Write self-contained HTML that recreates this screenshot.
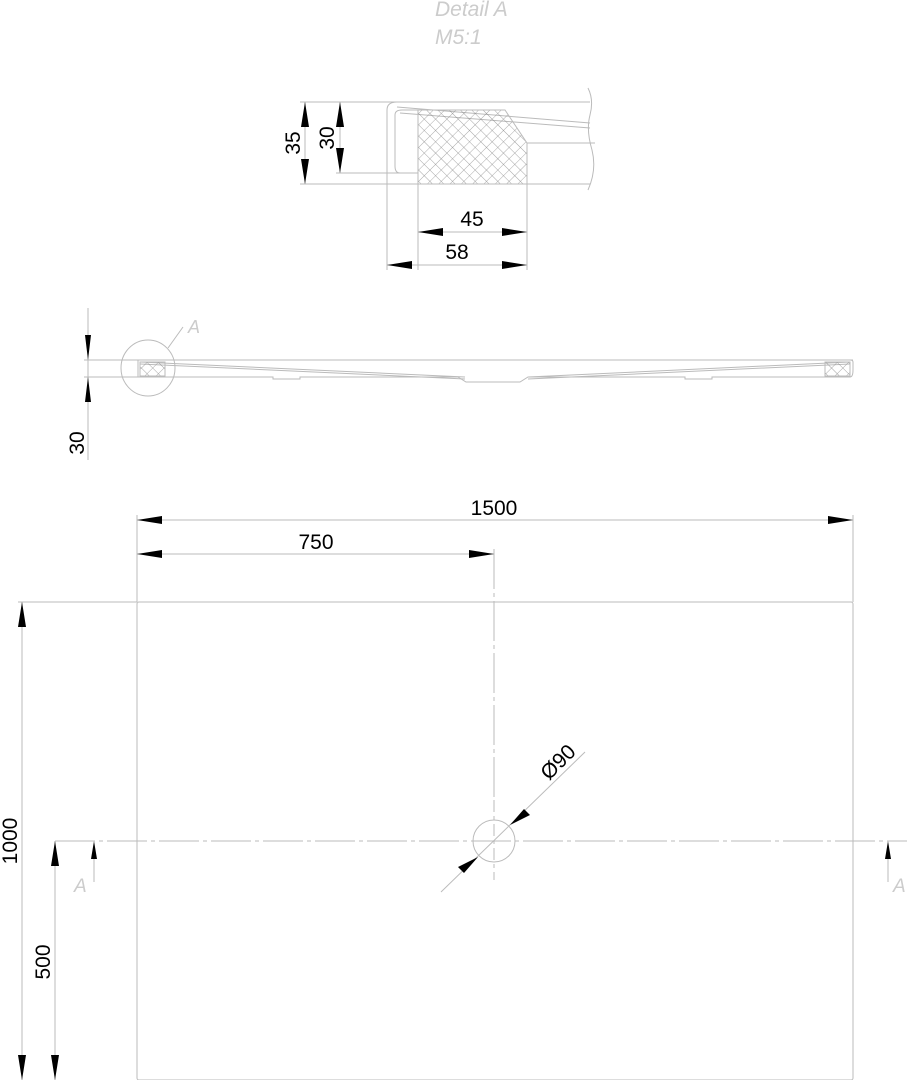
<!DOCTYPE html>
<html><head><meta charset="utf-8"><style>
html,body{margin:0;padding:0;background:#fff;}
svg{display:block;}
text{font-family:"Liberation Sans",sans-serif;}
</style></head><body>
<svg width="907" height="1080" viewBox="0 0 907 1080" xmlns="http://www.w3.org/2000/svg">
<defs>
<pattern id="h" width="8" height="8" patternUnits="userSpaceOnUse" patternTransform="rotate(45)">
<path d="M0 0H8M0 0V8" stroke="#888" stroke-width="0.7" fill="none"/>
</pattern>
</defs>
<g fill="#ccc" font-style="italic" font-size="21">
<text x="435" y="16">Detail  A</text>
<text x="435" y="44">M5:1</text>
</g>
<!-- Detail A -->
<g stroke="#bbb" stroke-width="1" fill="none">
<line x1="300" y1="102" x2="590" y2="102"/>
<line x1="300" y1="184" x2="590" y2="184"/>
<line x1="336" y1="173" x2="418" y2="173"/>
<path d="M387 184 V110 Q387 102 397 102"/>
<path d="M397 107 L590 123"/>
<path d="M400 113 L590 128"/>
<path d="M418 173 H400 Q395 173 395 166 V115 Q395 110 402 110 H418"/>
<line x1="527" y1="143" x2="595" y2="143"/>
<path d="M588 88 Q594 100 590 115 Q586 130 592 150 Q597 170 588 190"/>
<line x1="387" y1="184" x2="387" y2="270"/>
<line x1="418" y1="184" x2="418" y2="270"/>
<line x1="527" y1="184" x2="527" y2="270"/>
<line x1="418" y1="232" x2="527" y2="232"/>
<line x1="387" y1="265" x2="527" y2="265"/>
<line x1="305" y1="102" x2="305" y2="184"/>
<line x1="340" y1="102" x2="340" y2="173"/>
</g>
<path d="M418 110 H505 L527 143 V184 H418 Z" fill="url(#h)" stroke="#bbb"/>
<g fill="#000">
<path d="M305 102 l-4 25 h8z M305 184 l-4 -25 h8z"/>
<path d="M340 102 l-4 25 h8z M340 173 l-4 -25 h8z"/>
<path d="M418 232 l25 -4 v8z M527 232 l-25 -4 v8z"/>
<path d="M387 265 l25 -4 v8z M527 265 l-25 -4 v8z"/>
</g>
<g font-size="21" fill="#000">
<text transform="translate(300,143) rotate(-90)" text-anchor="middle">35</text>
<text transform="translate(334,138) rotate(-90)" text-anchor="middle">30</text>
<text x="472" y="226" text-anchor="middle">45</text>
<text x="457" y="259" text-anchor="middle">58</text>
</g>
<!-- Section -->
<g stroke="#bbb" stroke-width="1" fill="none">
<line x1="84" y1="360" x2="853" y2="360"/>
<line x1="84" y1="377" x2="140" y2="377"/>
<path d="M138 360 V377 H273 V379 H300 V377 H458 L466 382 H520 L528 377 H685 V379 H712 V377 H850 Q853 377 853 370 V362 Q853 360 850 360"/>
<path d="M140 362 L465 377"/>
<path d="M140 364 L465 379"/>
<path d="M850 362 L528 377"/>
<path d="M850 364 L528 379"/>
<ellipse cx="148" cy="368" rx="27" ry="28"/>
<line x1="168" y1="348" x2="183" y2="327"/>
<line x1="88" y1="308" x2="88" y2="460"/>
</g>
<rect x="140" y="362" width="25" height="14" fill="url(#h)" stroke="#bbb"/>
<rect x="825" y="362" width="25" height="14" fill="url(#h)" stroke="#bbb"/>
<text x="188" y="333" font-size="18" font-style="italic" fill="#ccc">A</text>
<g fill="#000">
<path d="M88 360 l-3 -25 h6z M88 377 l-3 25 h6z"/>
</g>
<text transform="translate(84,443) rotate(-90)" text-anchor="middle" font-size="21">30</text>
<!-- Plan -->
<g stroke="#bbb" stroke-width="1" fill="none">
<rect x="137" y="602" width="716" height="478" rx="2"/>
<line x1="137" y1="515" x2="137" y2="602"/>
<line x1="853" y1="515" x2="853" y2="602"/>
<line x1="494" y1="549" x2="494" y2="800" stroke-dasharray="40 4 4 4"/>
<line x1="494" y1="800" x2="494" y2="880" stroke-dasharray="12 4 4 4"/>
<line x1="137" y1="520" x2="853" y2="520"/>
<line x1="137" y1="554" x2="494" y2="554"/>
<line x1="18" y1="602" x2="137" y2="602"/>
<line x1="22" y1="602" x2="22" y2="1080"/>
<line x1="55" y1="841" x2="55" y2="1080"/>
<line x1="55" y1="841" x2="907" y2="841" stroke-dasharray="40 4 4 4"/>
<circle cx="494" cy="841" r="21"/>
<line x1="441" y1="892" x2="585" y2="752"/>
<line x1="94" y1="845" x2="94" y2="882"/>
<line x1="888" y1="845" x2="888" y2="882"/>
</g>
<g fill="#000">
<path d="M137 520 l25 -4 v8z M853 520 l-25 -4 v8z"/>
<path d="M137 554 l25 -4 v8z M494 554 l-25 -4 v8z"/>
<path d="M22 602 l-4 25 h8z M22 1080 l-4 -25 h8z"/>
<path d="M55 841 l-4 25 h8z M55 1080 l-4 -25 h8z"/>
<path d="M94 841 l-3 18 h6z M888 841 l-3 18 h6z"/>
<path d="M478 857 l-20 10 l6 6z M510 825 l20 -10 l-6 -6z"/>
</g>
<g font-size="21" fill="#000">
<text x="494" y="515" text-anchor="middle">1500</text>
<text x="316" y="549" text-anchor="middle">750</text>
<text transform="translate(17,841) rotate(-90)" text-anchor="middle">1000</text>
<text transform="translate(50,962) rotate(-90)" text-anchor="middle">500</text>
<text transform="translate(563,767) rotate(-45)" text-anchor="middle">Ø90</text>
</g>
<g font-size="19" font-style="italic" fill="#ccc">
<text x="74" y="892">A</text>
<text x="893" y="892">A</text>
</g>
</svg>
</body></html>
